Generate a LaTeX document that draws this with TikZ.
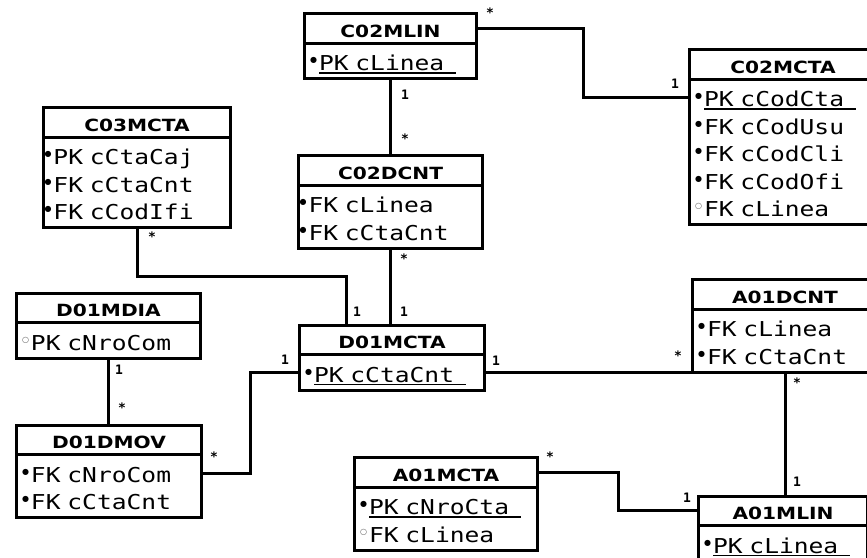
\documentclass[tikz,border=0pt]{standalone}
\usepackage{fontspec}
\usetikzlibrary{positioning,calc}
\newfontfamily\titlefont[FakeStretch=1.2]{DejaVu Sans}
\newfontfamily\rowfont[FakeStretch=1.2]{DejaVu Sans Mono}
\newfontfamily\multfont{DejaVu Sans Mono}
\newfontfamily\dotfont{DejaVu Sans}
\setlength{\parindent}{0pt}
\newsavebox\ulbox
\newcommand{\keyrow}[2]{\rule[-8pt]{0pt}{35.5pt}\makebox[9pt][l]{\raisebox{8pt}{\dotfont\fontsize{8}{8}\selectfont #1}}#2}
\newcommand{\fkrow}[1]{\keyrow{●}{#1}}
\newcommand{\nullrow}[1]{\keyrow{\color{black!65}○}{#1}}
\newcommand{\pkrow}[1]{\keyrow{●}{\sbox\ulbox{#1\hspace{12pt}}\rlap{\rule[-3.1pt]{\wd\ulbox}{1.6pt}}#1}}

\begin{document}
\begin{tikzpicture}[x=1pt,y=-1pt,
  entity/.style={draw, line width=3pt, outer sep=0pt, inner sep=0pt, anchor=north,
    font={\titlefont\bfseries\fontsize{16.8}{20}\selectfont},
    minimum height=29.5pt, text height=17.5pt, text depth=0pt},
  attrs/.style={draw, line width=3pt, outer sep=0pt, inner ysep=0pt, inner xsep=5.5pt,
    align=left, below=0pt of #1,
    font={\rowfont\fontsize{20.5}{27.5}\selectfont\lineskiplimit=-\maxdimen}},
  narrow/.style={inner xsep=1pt},
  link/.style={line width=3pt},
  mult/.style={inner sep=0pt, font={\multfont\bfseries\fontsize{13}{13}\selectfont}}]
\useasboundingbox (0,0) rectangle (867,557);
\clip (0,0) rectangle (867,557);
\fill[white] (0,0) rectangle (867,557);

% entities
\node[entity, minimum width=172pt] (c02mlin) at (390.5,13.5) {C02MLIN};
\node[attrs=c02mlin, text width=161pt] (c02mlinb) {\pkrow{PK cLinea}};

\node[entity, minimum width=184pt] (c02dcnt) at (390.5,155.5) {C02DCNT};
\node[attrs=c02dcnt, narrow, text width=182pt] (c02dcntb) {\fkrow{FK cLinea}\\\fkrow{FK cCtaCnt}};

\node[entity, minimum width=187pt] (c02mcta) at (783,49.5) {C02MCTA};
\node[attrs=c02mcta, text width=176pt] (c02mctab) {\pkrow{PK cCodCta}\\\fkrow{FK cCodUsu}\\\fkrow{FK cCodCli}\\\fkrow{FK cCodOfi}\\\nullrow{FK cLinea}};

\node[entity, minimum width=187pt] (c03mcta) at (137,107.5) {C03MCTA};
\node[attrs=c03mcta, narrow, text width=185pt] (c03mctab) {\fkrow{PK cCtaCaj}\\\fkrow{FK cCtaCnt}\\\fkrow{FK cCodIfi}};

\node[entity, minimum width=184pt] (d01mdia) at (108.5,293) {D01MDIA};
\node[attrs=d01mdia, text width=173pt] (d01mdiab) {\nullrow{PK cNroCom}};

\node[entity, minimum width=185pt] (d01dmov) at (109,425) {D01DMOV};
\node[attrs=d01dmov, text width=174pt] (d01dmovb) {\fkrow{FK cNroCom}\\\fkrow{FK cCtaCnt}};

\node[entity, minimum width=185pt] (d01mcta) at (392,325) {D01MCTA};
\node[attrs=d01mcta, text width=174pt] (d01mctab) {\pkrow{PK cCtaCnt}};

\node[entity, minimum width=185pt] (a01dcnt) at (785,279.5) {A01DCNT};
\node[attrs=a01dcnt, text width=174pt] (a01dcntb) {\fkrow{FK cLinea}\\\fkrow{FK cCtaCnt}};

\node[entity, minimum width=183pt] (a01mcta) at (446,457.5) {A01MCTA};
\node[attrs=a01mcta, text width=172pt] (a01mctab) {\pkrow{PK cNroCta}\\\nullrow{FK cLinea}};

\node[entity, minimum width=169pt] (a01mlin) at (783,496) {A01MLIN};
\node[attrs=a01mlin, text width=158pt] (a01mlinb) {\pkrow{PK cLinea}};

% relations
\coordinate (c02mctain) at ([yshift=-18.5pt]c02mctab.north west);
\draw[link] (c02mlin.east) -| ($(c02mlin.east)!.5!(c02mctain)$) |- (c02mctain);
\draw[link] (c02mlinb.south) -- (c02mlinb.south |- c02dcnt.north);
\draw[link] (c02dcntb.south) -- (c02dcntb.south |- d01mcta.north);
\coordinate (d01left) at ([xshift=-46pt]d01mcta.north);
\draw[link] (c03mctab.south) |- ($(c03mctab.south)!.5!(d01left)$) -| (d01left);
\draw[link] (d01mdiab.south) -- (d01mdiab.south |- d01dmov.north);
\coordinate (d01dmovout) at ([yshift=-18.5pt]d01dmovb.north east);
\draw[link] (d01dmovout) -| ($(d01dmovout)!.5!(d01mctab.west)$) |- (d01mctab.west);
\draw[link] (d01mctab.east) -- (d01mctab.east -| a01dcntb.south west);
\draw[link] (a01dcntb.south) -- (a01dcntb.south |- a01mlin.north);
\draw[link] (a01mcta.east) -| ($(a01mcta.east)!.5!(a01mlin.west)$) |- (a01mlin.west);

% multiplicities
\node[mult] (m1a) at (490,13) {*};
\node[mult] (m1b) at (675,84) {1};
\node[mult] (m2a) at (405,95) {1};
\node[mult] (m2b) at (405,139) {*};
\node[mult] (m3a) at (404,259) {*};
\node[mult] (m3b) at (404,312) {1};
\node[mult] (m4a) at (152,237) {*};
\node[mult] (m4b) at (357,312) {1};
\node[mult] (m5a) at (119,370) {1};
\node[mult] (m5b) at (122,408) {*};
\node[mult] (m6a) at (214,457) {*};
\node[mult] (m6b) at (285,360) {1};
\node[mult] (m7a) at (496,361) {1};
\node[mult] (m7b) at (678,356) {*};
\node[mult] (m8a) at (797,383) {*};
\node[mult] (m8b) at (797,482) {1};
\node[mult] (m9a) at (550,457) {*};
\node[mult] (m9b) at (687,498) {1};
\end{tikzpicture}
\end{document}
